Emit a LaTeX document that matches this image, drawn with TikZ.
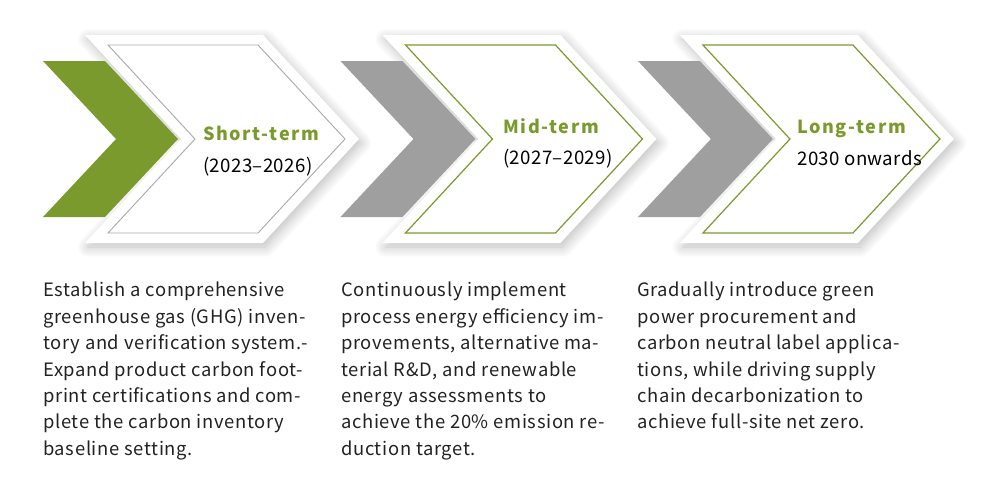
\documentclass[tikz,border=0pt]{standalone}
\usepackage{fontspec}
\setmainfont{Noto Sans CJK SC}
\newfontfamily\phasefont[LetterSpace=9]{Noto Sans CJK SC}
\newfontfamily\goalfont[LetterSpace=3.5]{Noto Sans CJK SC}
\newfontfamily\periodfont[LetterSpace=2]{Noto Sans CJK SC}
\usetikzlibrary{shadows.blur}
\definecolor{leafgreen}{HTML}{7B9A2D}
\definecolor{stepgray}{HTML}{9F9F9F}
\definecolor{rimgray}{HTML}{ABABAB}
\definecolor{bodyink}{HTML}{222222}
\tikzstyle{backdrop} =
[fill=white, blur shadow={shadow xshift=2pt, shadow yshift=-3pt,
shadow blur radius=8pt, shadow blur steps=12, shadow opacity=26}]
\tikzstyle{greenarrow} = [fill=leafgreen]
\tikzstyle{grayarrow} = [fill=stepgray]
\tikzstyle{greenframe} = [draw=leafgreen, fill=white, line width=0.9pt]
\tikzstyle{grayframe} = [draw=rimgray, fill=white, line width=0.7pt]
\tikzstyle{phase} =
[anchor=base west, inner sep=0pt, text=leafgreen,
font=\fontsize{13.5}{16}\phasefont\bfseries]
\tikzstyle{period} =
[anchor=base west, inner sep=0pt, text=black,
font=\fontsize{14}{16}\periodfont]
\tikzstyle{goal} =
[anchor=north west, inner sep=0pt, align=left, text=bodyink,
font=\fontsize{13.8}{19.8}\goalfont]

\begin{document}
\begin{tikzpicture}[x=0.75pt, y=-0.75pt]
  \useasboundingbox (0,0) rectangle (1000,500);
  % 1st step
  \path [backdrop] (85,35) -- (263,35) -- (359,139) -- (263,243)
   -- (85,243) -- (181,139) -- cycle;
  \path [greenarrow] (43,61) -- (105,61) -- (178,139) -- (105,217)
   -- (43,217) -- (116,139) -- cycle;
  \path [grayframe] (108,45) -- (258,45) -- (345,139) -- (258,233)
   -- (108,233) -- (195,139) -- cycle;
  \node [phase] (short) at (203,140) {Short-term};
  \node [period] (shortyears) at (203,172) {(2023–2026)};
  %
  % 2nd step
  \begin{scope}[xshift=223.1pt]
  \path [backdrop] (85,35) -- (263,35) -- (359,139) -- (263,243)
   -- (85,243) -- (181,139) -- cycle;
  \path [grayarrow] (43,61) -- (105,61) -- (178,139) -- (105,217)
   -- (43,217) -- (116,139) -- cycle;
  \path [greenframe] (108,45) -- (258,45) -- (345,139) -- (258,233)
   -- (108,233) -- (195,139) -- cycle;
  \end{scope}
  \node [phase] (mid) at (503,133) {Mid-term};
  \node [period] (midyears) at (503,164) {(2027–2029)};
  %
  % 3rd step
  \begin{scope}[xshift=446.2pt]
  \path [backdrop] (85,35) -- (263,35) -- (359,139) -- (263,243)
   -- (85,243) -- (181,139) -- cycle;
  \path [grayarrow] (43,61) -- (105,61) -- (178,139) -- (105,217)
   -- (43,217) -- (116,139) -- cycle;
  \path [greenframe] (108,45) -- (258,45) -- (345,139) -- (258,233)
   -- (108,233) -- (195,139) -- cycle;
  \end{scope}
  \node [phase] (long) at (797,133) {Long-term};
  \node [period] (longyears) at (797,165) {2030 onwards};
  %
  % goals below the steps
  \node [goal] (shortgoal) at (43,282)
   {Establish a comprehensive\\greenhouse gas (GHG) inven-\\
    tory and verification system.-\\Expand product carbon foot-\\
    print certifications and com-\\plete the carbon inventory\\
    baseline setting.};
  \node [goal] (midgoal) at (341,282)
   {Continuously implement\\process energy efficiency im-\\
    provements, alternative ma-\\terial R\&D, and renewable\\
    energy assessments to\\achieve the 20\% emission re-\\
    duction target.};
  \node [goal] (longgoal) at (637,282)
   {Gradually introduce green\\power procurement and\\
    carbon neutral label applica-\\tions, while driving supply\\
    chain decarbonization to\\achieve full-site net zero.};
\end{tikzpicture}
\end{document}
